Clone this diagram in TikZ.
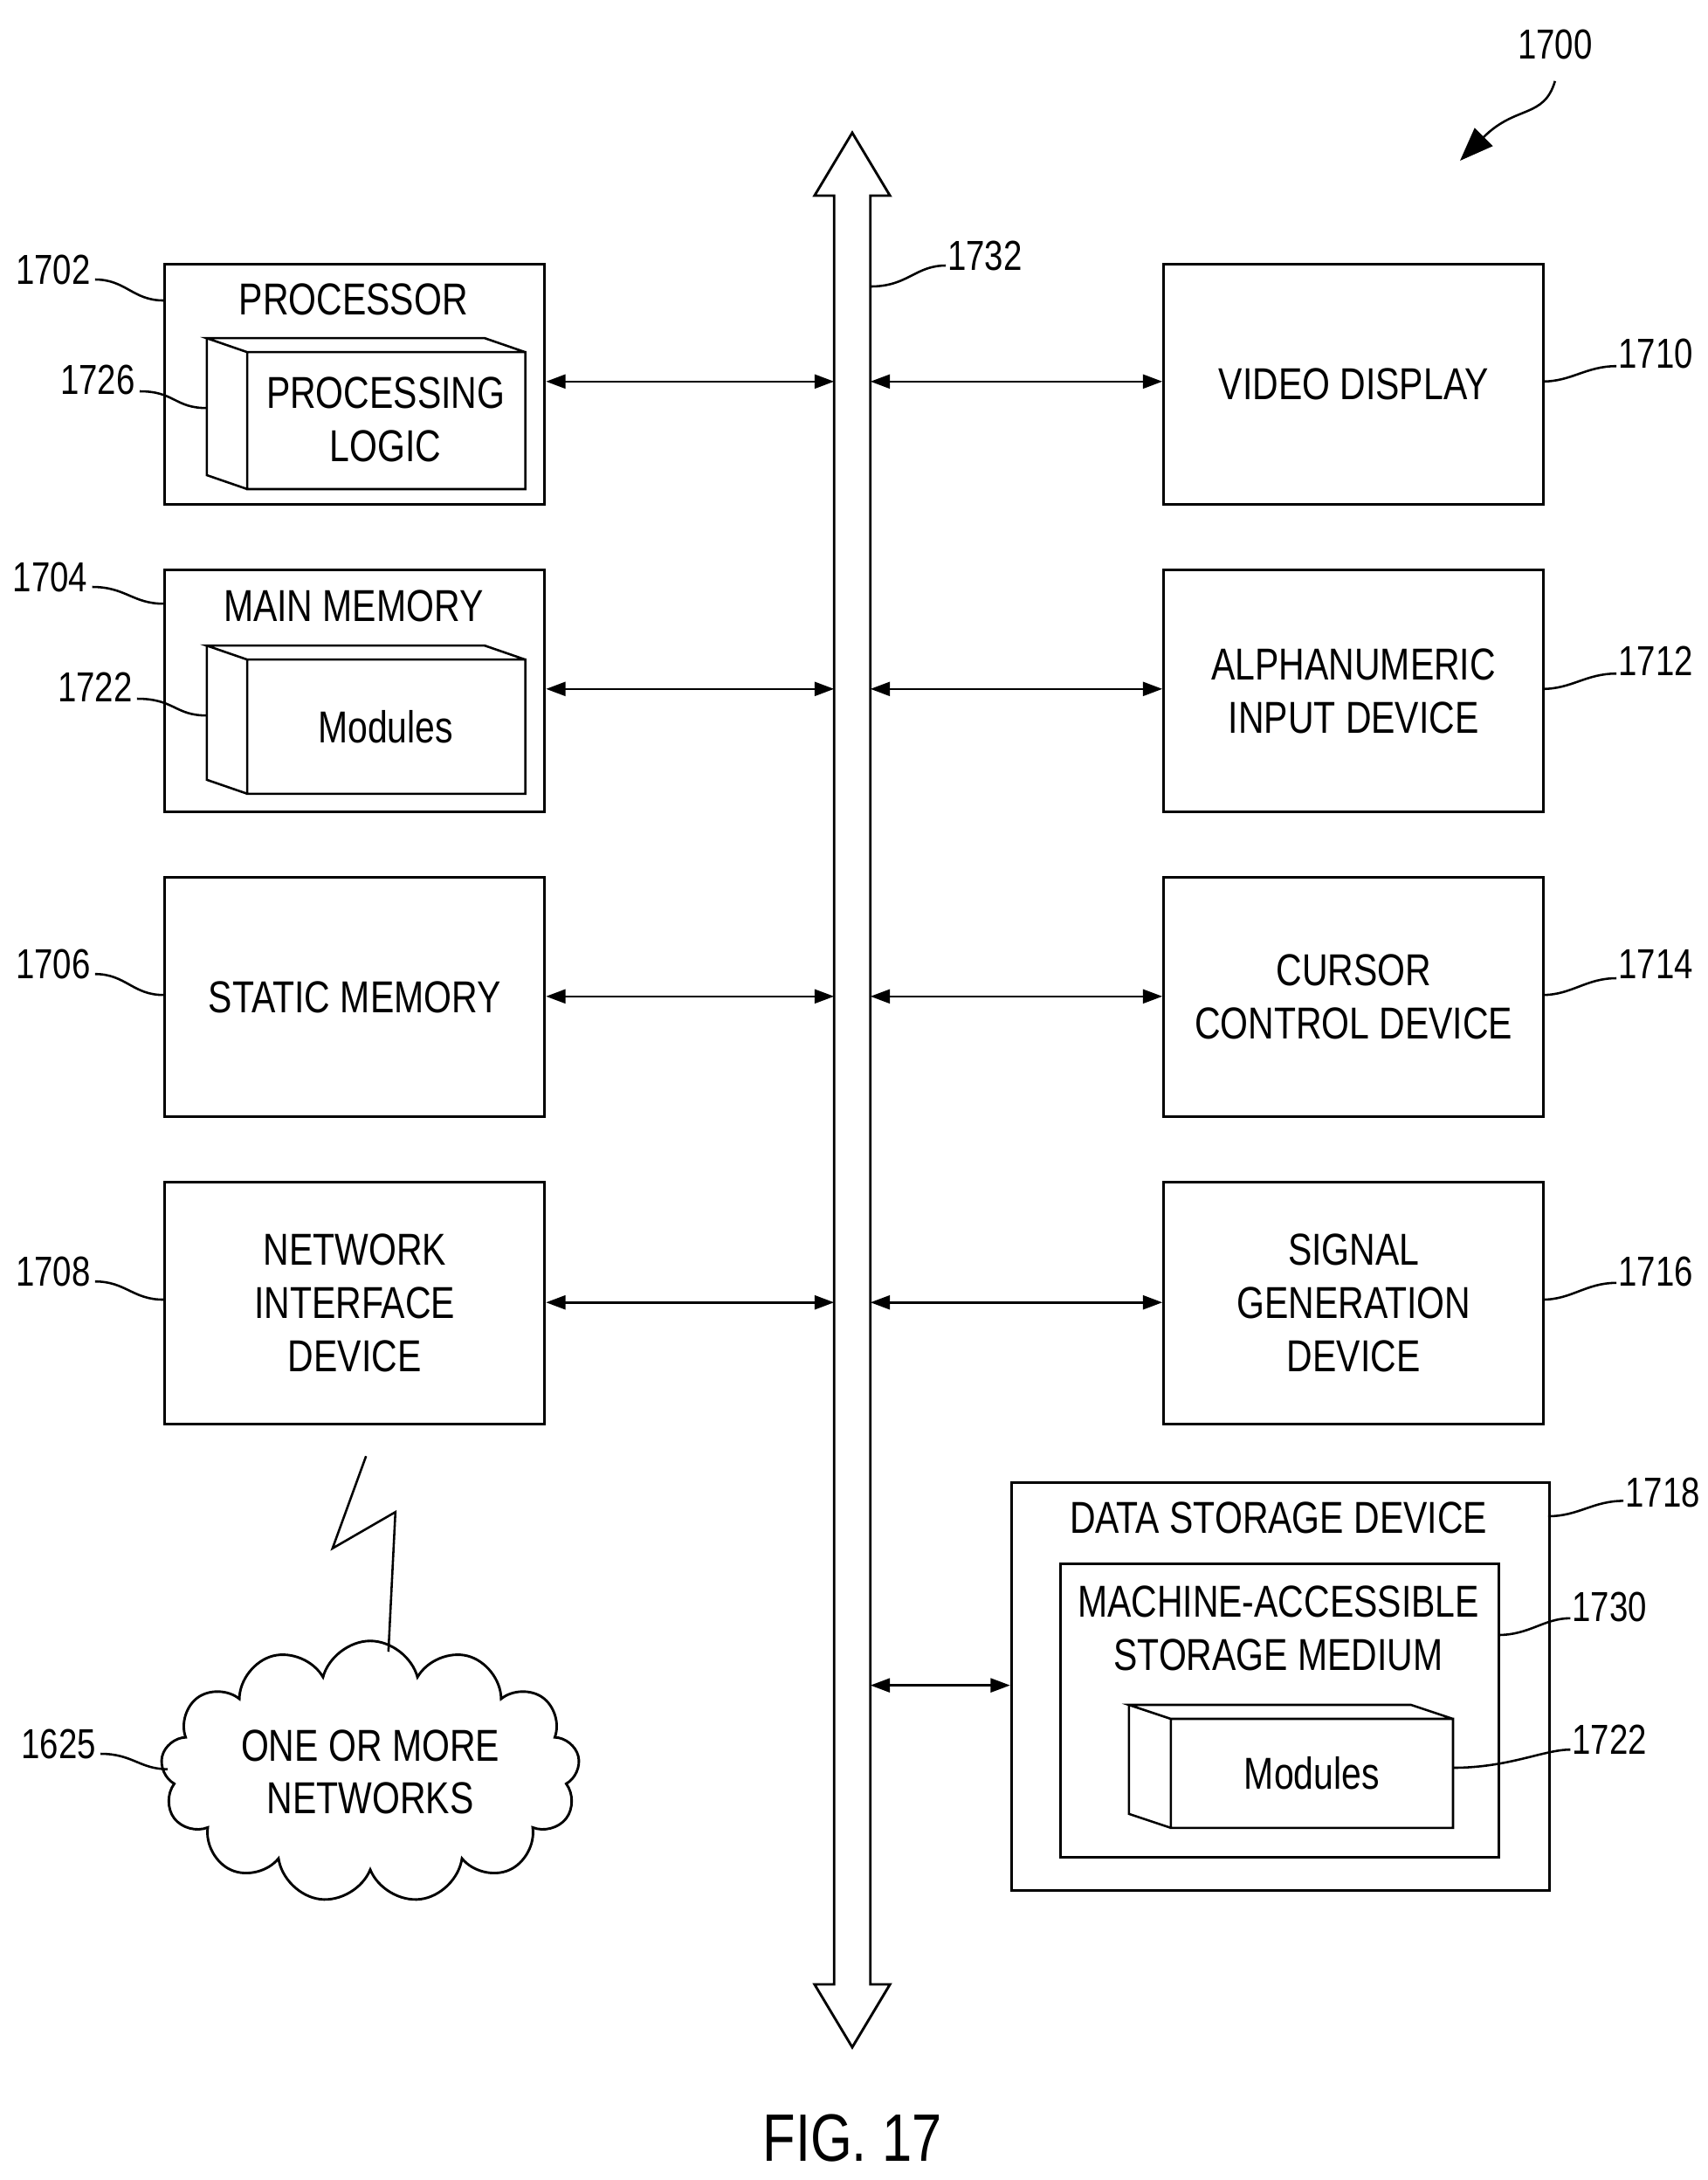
\documentclass[tikz,border=0pt]{standalone}
\usepackage{fontspec}
\setmainfont{Liberation Sans}[FakeStretch=0.8]
\usetikzlibrary{shapes.symbols,shapes.arrows,arrows.meta}
\begin{document}
\begin{tikzpicture}[x=0.5pt,y=-0.5pt,
  box/.style={draw,line width=0.9pt,inner sep=0},
  txt/.style={font=\fontsize{16}{19}\selectfont,align=center},
  num/.style={font=\fontsize{15}{18}\selectfont},
  lead/.style={line width=0.8pt},
  arr/.style={line width=0.8pt,{Triangle[length=7pt,width=5pt]}-{Triangle[length=7pt,width=5pt]}}]
\useasboundingbox (0,0) rectangle (1222,1560);
% bus
\draw[line width=0.9pt] (597,140) -- (583,140) -- (610,95) -- (637,140) -- (623,140) -- (623,1420) -- (637,1420) -- (610,1465) -- (583,1420) -- (597,1420) -- cycle;
\coordinate (busL) at (597,0); \coordinate (busR) at (623,0);
% left boxes
\node[box,minimum width=136pt,minimum height=86pt,anchor=north west] (p) at (117,188) {};
\node[txt,anchor=north] at (253,196) {PROCESSOR};
\draw[line width=0.8pt] (177,252) rectangle (376,350) (177,252) -- (148,242) -- (347,242) -- (376,252) (148,242) -- (148,340) -- (177,350);
\node[txt] (pl) at (276,300) {PROCESSING\\LOGIC};
\node[box,minimum width=136pt,minimum height=86.5pt,anchor=north west] (mm) at (117,407) {};
\node[txt,anchor=north] at (253,415) {MAIN MEMORY};
\draw[line width=0.8pt] (177,472) rectangle (376,568) (177,472) -- (148,462) -- (347,462) -- (376,472) (148,462) -- (148,558) -- (177,568);
\node[txt] (mod1) at (276,520) {Modules};
\node[box,minimum width=136pt,minimum height=85.5pt,anchor=north west,txt] (sm) at (117,627) {STATIC MEMORY};
\node[box,minimum width=136pt,minimum height=86.5pt,anchor=north west,txt] (nd) at (117,845) {NETWORK\\INTERFACE\\DEVICE};
% right boxes
\node[box,minimum width=136pt,minimum height=86pt,anchor=north west,txt] (vd) at (832,188) {VIDEO DISPLAY};
\node[box,minimum width=136pt,minimum height=86.5pt,anchor=north west,txt] (ai) at (832,407) {ALPHANUMERIC\\INPUT DEVICE};
\node[box,minimum width=136pt,minimum height=85.5pt,anchor=north west,txt] (cc) at (832,627) {CURSOR\\CONTROL DEVICE};
\node[box,minimum width=136pt,minimum height=86.5pt,anchor=north west,txt] (sg) at (832,845) {SIGNAL\\GENERATION\\DEVICE};
% data storage
\node[box,minimum width=192.5pt,minimum height=146pt,anchor=north west] (ds) at (723,1060) {};
\node[txt,anchor=north] at (915,1068) {DATA STORAGE DEVICE};
\node[box,minimum width=157pt,minimum height=105pt,anchor=north west] (ma) at (758,1118) {};
\node[txt,anchor=north] at (915,1128) {MACHINE-ACCESSIBLE\\STORAGE MEDIUM};
\draw[line width=0.8pt] (838,1230) rectangle (1040,1308) (838,1230) -- (808,1220) -- (1010,1220) -- (1040,1230) (808,1220) -- (808,1298) -- (838,1308);
\node[txt] (mod2) at (939,1269) {Modules};
% arrows
\foreach \n/\y in {p/273,mm/493,sm/713,nd/932}{\draw[arr] (\n.east|-0,\y) -- (busL|-0,\y);}
\foreach \n/\y in {vd/273,ai/493,cc/713,sg/932}{\draw[arr] (busR|-0,\y) -- (\n.west|-0,\y);}
\draw[arr] (busR|-0,1206) -- (ds.west|-0,1206);
% cloud & lightning
\node[cloud,draw,line width=0.9pt,cloud puffs=13,aspect=2,minimum width=150pt,minimum height=75pt,txt] (cl) at (265,1268) {ONE OR MORE\\NETWORKS};
\draw[line width=0.8pt] (262,1042) -- (238,1108) -- (283,1082) -- (278,1182);
% labels
\node[num] (n1702) at (38,193) {1702};
\draw[lead] (68,200) .. controls (90,200) and (95,215) .. (117,215);
\node[num] (n1726) at (70,272) {1726};
\draw[lead] (100,280) .. controls (125,280) and (125,292) .. (148,292);
\node[num] (n1704) at (36,413) {1704};
\draw[lead] (66,420) .. controls (90,420) and (95,432) .. (117,432);
\node[num] (n1722) at (68,492) {1722};
\draw[lead] (98,500) .. controls (125,500) and (125,512) .. (148,512);
\node[num] (n1706) at (38,690) {1706};
\draw[lead] (68,697) .. controls (90,697) and (95,712) .. (117,712);
\node[num] (n1708) at (38,910) {1708};
\draw[lead] (68,917) .. controls (90,917) and (95,930) .. (117,930);
\node[num] (n1625) at (42,1248) {1625};
\draw[lead] (72,1255) .. controls (95,1255) and (100,1266) .. (120,1266);
\node[num] (n1710) at (1185,253) {1710};
\draw[lead] (1104,273) .. controls (1125,273) and (1135,262) .. (1157,262);
\node[num] (n1712) at (1185,473) {1712};
\draw[lead] (1104,493) .. controls (1125,493) and (1135,482) .. (1157,482);
\node[num] (n1714) at (1185,690) {1714};
\draw[lead] (1104,712) .. controls (1125,712) and (1135,700) .. (1157,700);
\node[num] (n1716) at (1185,910) {1716};
\draw[lead] (1104,930) .. controls (1125,930) and (1135,918) .. (1157,918);
\node[num] (n1718) at (1190,1068) {1718};
\draw[lead] (1108,1085) .. controls (1130,1085) and (1140,1074) .. (1162,1074);
\node[num] (n1730) at (1152,1150) {1730};
\draw[lead] (1072,1170) .. controls (1095,1170) and (1105,1158) .. (1124,1158);
\node[num] (n1722b) at (1152,1245) {1722};
\draw[lead] (1040,1265) .. controls (1080,1265) and (1105,1252) .. (1124,1252);
\node[num] (n1732) at (705,183) {1732};
\draw[lead] (623,205) .. controls (650,205) and (655,190) .. (677,190);
\node[num] (n1700) at (1113,32) {1700};
\draw[line width=0.8pt,-{Triangle[length=12pt,width=9pt]}] (1113,58) .. controls (1105,85) and (1085,75) .. (1045,115);
\node[font=\fontsize{24}{28}\selectfont] (fig) at (610,1530) {FIG. 17};
\end{tikzpicture}
\end{document}
